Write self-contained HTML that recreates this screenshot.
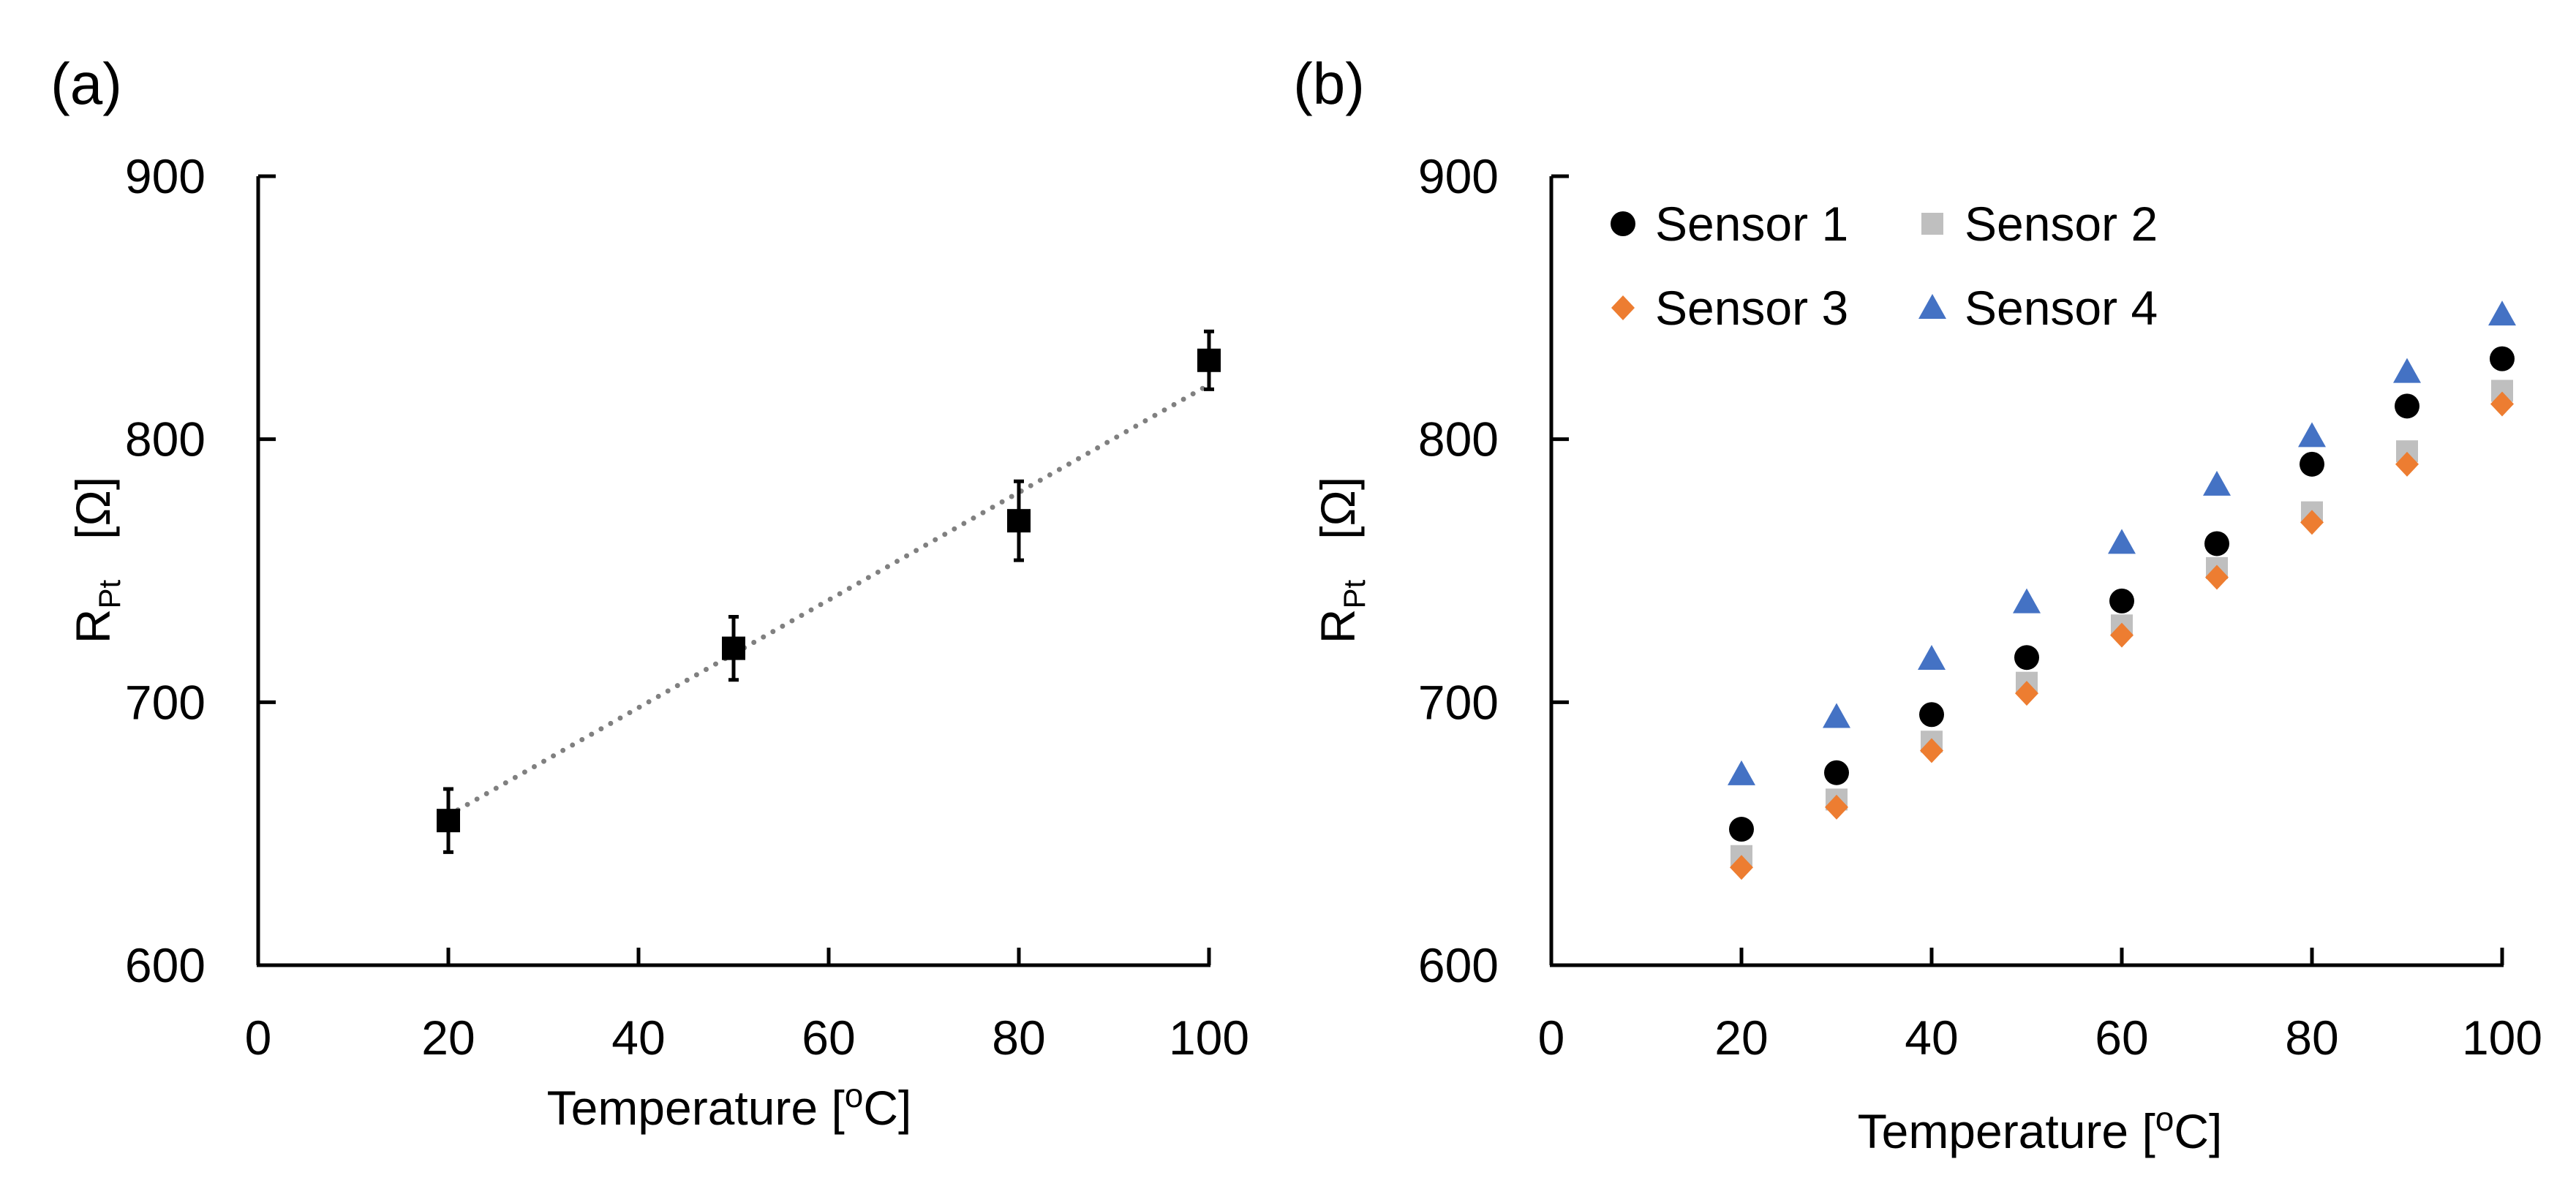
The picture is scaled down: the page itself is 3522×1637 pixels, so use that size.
<!DOCTYPE html>
<html><head><meta charset="utf-8"><style>
html,body{margin:0;padding:0;background:#fff}
svg{display:block}
text{font-family:"Liberation Sans",sans-serif;fill:#000}
</style></head><body>
<svg id="fig" width="3522" height="1637" viewBox="0 0 3522 1637" xmlns="http://www.w3.org/2000/svg">
<g id="pa"></g>
<g id="pb"></g>
</svg>
<script>
const xTicks = [0,20,40,60,80,100];
const yTicks = [600,700,800,900];
const aTemps = [20,50,80,100];
const aValues = [655,720.5,769,830];
const aErrors = [12,12,15,11];
const aTrend = [657,820.7];
const bTemps = [20,30,40,50,60,70,80,90,100];
const s1 = [651.7,673.2,695.3,717,738.5,760.3,790.5,812.6,830.6];
const s2 = [641.5,663,685,707.4,729.2,751,772.2,795.4,818.4];
const s3 = [637.2,660.1,681.6,703.4,725.5,747.5,768.4,790.5,813.4];
const s4 = [672.6,694.4,716.5,738,760.6,782.7,801.2,825.6,847.4];

const NS="http://www.w3.org/2000/svg";
function mk(parent,tag,attrs,txt){const e=document.createElementNS(NS,tag);for(const k in attrs)e.setAttribute(k,attrs[k]);if(txt!==undefined)e.textContent=txt;parent.appendChild(e);return e;}

function axes(g,x0,label,labelX,titleX,titleY,ytitleX){
  const xs=v=>x0+(v-0)*(1300/100);
  const ys=v=>1320-(v-600)*(1079/300);
  const yl=mk(g,'line',{x1:x0,y1:ys(900),x2:x0,y2:1320,stroke:'#000','stroke-width':5});
  
  const xl=mk(g,'line',{x1:x0-2,y1:1320,x2:xs(100)+2,y2:1320,stroke:'#000','stroke-width':5});
  
  yTicks.forEach(v=>{
    const t=mk(g,'line',{x1:x0,y1:ys(v),x2:x0+24,y2:ys(v),stroke:'#000','stroke-width':5});
    
    const l=mk(g,'text',{x:x0-72,y:ys(v)+23,'text-anchor':'end','font-size':66},v);
    
  });
  xTicks.forEach(v=>{
    if(v>0){const t=mk(g,'line',{x1:xs(v),y1:1320,x2:xs(v),y2:1296,stroke:'#000','stroke-width':5});
    }
    const l=mk(g,'text',{x:xs(v),y:1442,'text-anchor':'middle','font-size':66},v);
    
  });
  const pl=mk(g,'text',{x:labelX,y:142,'text-anchor':'middle','font-size':80},label);
  
  const xt=mk(g,'text',{x:titleX,y:titleY,'text-anchor':'middle','font-size':66});
  
  xt.innerHTML='Temperature [<tspan dy="-24" font-size="46">o</tspan><tspan dy="24">C]</tspan>';
  const yt=mk(g,'text',{x:0,y:0,'text-anchor':'middle','font-size':66,transform:`translate(${ytitleX},766) rotate(-90)`});
  
  yt.innerHTML='R<tspan dy="14" font-size="42">Pt</tspan><tspan dy="-14" xml:space="preserve">   [Ω]</tspan>';
  return {xs,ys};
}

// Panel a
const ga=document.getElementById('pa');
const A=axes(ga,353,'(a)',118,997,1538,150);
const tr=mk(ga,'line',{x1:A.xs(20),y1:A.ys(aTrend[0]),x2:A.xs(100),y2:A.ys(aTrend[1]),stroke:'#808080','stroke-width':7,'stroke-linecap':'round','stroke-dasharray':'0 15'});

aTemps.forEach((t,i)=>{
  const x=A.xs(t),y=A.ys(aValues[i]),yt=A.ys(aValues[i]+aErrors[i]),yb=A.ys(aValues[i]-aErrors[i]);
  const eb=mk(ga,'path',{d:`M${x},${yt}V${yb}M${x-7},${yt}H${x+7}M${x-7},${yb}H${x+7}`,stroke:'#000','stroke-width':5,fill:'none'});
  
  const m=mk(ga,'rect',{x:x-16,y:y-16,width:32,height:32,fill:'#000'});
  
});

// Panel b
const gb=document.getElementById('pb');
const B=axes(gb,2121,'(b)',1817,2789,1570,1852);
function marker(g,type,x,y){
  let e;
  if(type==='circle')e=mk(g,'circle',{cx:x,cy:y,r:17,fill:'#000'});
  else if(type==='square')e=mk(g,'rect',{x:x-15,y:y-15,width:30,height:30,fill:'#bfbfbf'});
  else if(type==='diamond')e=mk(g,'path',{d:`M${x},${y-17}L${x+16},${y}L${x},${y+17}L${x-16},${y}Z`,fill:'#ed7d31'});
  else e=mk(g,'path',{d:`M${x},${y-19}L${x+19},${y+15}L${x-19},${y+15}Z`,fill:'#4472c4'});
  return e;
}
const series=[[s2,'square','sensor-2'],[s3,'diamond','sensor-3'],[s1,'circle','sensor-1'],[s4,'triangle','sensor-4']];
series.forEach(([arr,type,name])=>{
  const sg=mk(gb,'g',{});
  
  bTemps.forEach((t,i)=>{
    const e=marker(sg,type,B.xs(t),B.ys(arr[i]));
    
    
  });
});
const leg=[['circle','Sensor 1',2219,306],['square','Sensor 2',2642,306],['diamond','Sensor 3',2219,421],['triangle','Sensor 4',2642,421]];
leg.forEach(([type,txt,x,y])=>{
  const lg=mk(gb,'g',{});
  
  marker(lg,type,x,y);
  mk(lg,'text',{x:x+44,y:y+23,'font-size':66},txt);
});
</script>
</body></html>
